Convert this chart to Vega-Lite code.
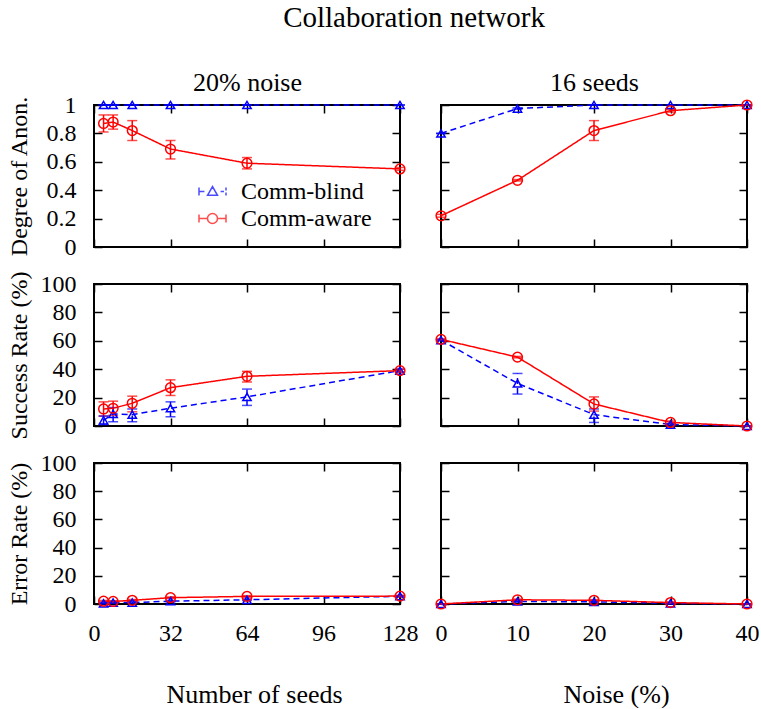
{
  "$schema": "https://vega.github.io/schema/vega-lite/v6.json",
  "padding": {"left": 6, "top": 4, "right": 5, "bottom": 0},
  "title": {"text": "Collaboration network", "fontSize": 29, "anchor": "middle", "baseline": "alphabetic", "offset": 12, "dx": 31, "font": "Liberation Serif", "fontWeight": "normal", "color": "black"},
  "datasets": {
    "d": [
      {"panel": "seeds", "metric": "anon", "series": "Comm-blind", "x": 4, "y": 1, "lo": 1, "hi": 1},
      {"panel": "seeds", "metric": "anon", "series": "Comm-blind", "x": 8, "y": 1, "lo": 1, "hi": 1},
      {"panel": "seeds", "metric": "anon", "series": "Comm-blind", "x": 16, "y": 1, "lo": 1, "hi": 1},
      {"panel": "seeds", "metric": "anon", "series": "Comm-blind", "x": 32, "y": 1, "lo": 1, "hi": 1},
      {"panel": "seeds", "metric": "anon", "series": "Comm-blind", "x": 64, "y": 1, "lo": 1, "hi": 1},
      {"panel": "seeds", "metric": "anon", "series": "Comm-blind", "x": 128, "y": 1, "lo": 1, "hi": 1},
      {"panel": "seeds", "metric": "anon", "series": "Comm-aware", "x": 4, "y": 0.87, "lo": 0.81, "hi": 0.93},
      {"panel": "seeds", "metric": "anon", "series": "Comm-aware", "x": 8, "y": 0.88, "lo": 0.83, "hi": 0.93},
      {"panel": "seeds", "metric": "anon", "series": "Comm-aware", "x": 16, "y": 0.82, "lo": 0.75, "hi": 0.89},
      {"panel": "seeds", "metric": "anon", "series": "Comm-aware", "x": 32, "y": 0.69, "lo": 0.62, "hi": 0.75},
      {"panel": "seeds", "metric": "anon", "series": "Comm-aware", "x": 64, "y": 0.59, "lo": 0.55, "hi": 0.63},
      {"panel": "seeds", "metric": "anon", "series": "Comm-aware", "x": 128, "y": 0.55, "lo": 0.54, "hi": 0.56},
      {"panel": "seeds", "metric": "success", "series": "Comm-blind", "x": 4, "y": 4, "lo": 1, "hi": 7},
      {"panel": "seeds", "metric": "success", "series": "Comm-blind", "x": 8, "y": 8.5, "lo": 3, "hi": 13},
      {"panel": "seeds", "metric": "success", "series": "Comm-blind", "x": 16, "y": 8, "lo": 3, "hi": 12},
      {"panel": "seeds", "metric": "success", "series": "Comm-blind", "x": 32, "y": 12.5, "lo": 6.5, "hi": 17},
      {"panel": "seeds", "metric": "success", "series": "Comm-blind", "x": 64, "y": 20.5, "lo": 14.5, "hi": 26},
      {"panel": "seeds", "metric": "success", "series": "Comm-blind", "x": 128, "y": 39, "lo": 38, "hi": 40},
      {"panel": "seeds", "metric": "success", "series": "Comm-aware", "x": 4, "y": 12, "lo": 7, "hi": 17},
      {"panel": "seeds", "metric": "success", "series": "Comm-aware", "x": 8, "y": 12.5, "lo": 7.5, "hi": 17.5},
      {"panel": "seeds", "metric": "success", "series": "Comm-aware", "x": 16, "y": 16, "lo": 10, "hi": 21},
      {"panel": "seeds", "metric": "success", "series": "Comm-aware", "x": 32, "y": 27, "lo": 21.5, "hi": 32.5},
      {"panel": "seeds", "metric": "success", "series": "Comm-aware", "x": 64, "y": 35, "lo": 31, "hi": 38.5},
      {"panel": "seeds", "metric": "success", "series": "Comm-aware", "x": 128, "y": 39, "lo": 38, "hi": 40},
      {"panel": "seeds", "metric": "error", "series": "Comm-blind", "x": 4, "y": 0.5, "lo": 0, "hi": 1},
      {"panel": "seeds", "metric": "error", "series": "Comm-blind", "x": 8, "y": 1, "lo": 0.5, "hi": 1.5},
      {"panel": "seeds", "metric": "error", "series": "Comm-blind", "x": 16, "y": 1, "lo": 0.5, "hi": 1.5},
      {"panel": "seeds", "metric": "error", "series": "Comm-blind", "x": 32, "y": 2, "lo": 1.5, "hi": 2.5},
      {"panel": "seeds", "metric": "error", "series": "Comm-blind", "x": 64, "y": 3, "lo": 2.5, "hi": 3.5},
      {"panel": "seeds", "metric": "error", "series": "Comm-blind", "x": 128, "y": 5.5, "lo": 5, "hi": 6},
      {"panel": "seeds", "metric": "error", "series": "Comm-aware", "x": 4, "y": 2, "lo": 1.5, "hi": 2.5},
      {"panel": "seeds", "metric": "error", "series": "Comm-aware", "x": 8, "y": 1.8, "lo": 1.3, "hi": 2.3},
      {"panel": "seeds", "metric": "error", "series": "Comm-aware", "x": 16, "y": 2.6, "lo": 2, "hi": 3.2},
      {"panel": "seeds", "metric": "error", "series": "Comm-aware", "x": 32, "y": 4.5, "lo": 4, "hi": 5},
      {"panel": "seeds", "metric": "error", "series": "Comm-aware", "x": 64, "y": 5.4, "lo": 4.9, "hi": 5.9},
      {"panel": "seeds", "metric": "error", "series": "Comm-aware", "x": 128, "y": 5.6, "lo": 5.1, "hi": 6.1},
      {"panel": "noise", "metric": "anon", "series": "Comm-blind", "x": 0, "y": 0.8, "lo": 0.8, "hi": 0.8},
      {"panel": "noise", "metric": "anon", "series": "Comm-blind", "x": 10, "y": 0.975, "lo": 0.97, "hi": 0.98},
      {"panel": "noise", "metric": "anon", "series": "Comm-blind", "x": 20, "y": 1, "lo": 1, "hi": 1},
      {"panel": "noise", "metric": "anon", "series": "Comm-blind", "x": 30, "y": 1, "lo": 1, "hi": 1},
      {"panel": "noise", "metric": "anon", "series": "Comm-blind", "x": 40, "y": 1, "lo": 1, "hi": 1},
      {"panel": "noise", "metric": "anon", "series": "Comm-aware", "x": 0, "y": 0.22, "lo": 0.21, "hi": 0.23},
      {"panel": "noise", "metric": "anon", "series": "Comm-aware", "x": 10, "y": 0.47, "lo": 0.465, "hi": 0.475},
      {"panel": "noise", "metric": "anon", "series": "Comm-aware", "x": 20, "y": 0.82, "lo": 0.75, "hi": 0.89},
      {"panel": "noise", "metric": "anon", "series": "Comm-aware", "x": 30, "y": 0.96, "lo": 0.95, "hi": 0.97},
      {"panel": "noise", "metric": "anon", "series": "Comm-aware", "x": 40, "y": 1, "lo": 1, "hi": 1},
      {"panel": "noise", "metric": "success", "series": "Comm-blind", "x": 0, "y": 60.5, "lo": 60, "hi": 61},
      {"panel": "noise", "metric": "success", "series": "Comm-blind", "x": 10, "y": 30, "lo": 22.5, "hi": 37},
      {"panel": "noise", "metric": "success", "series": "Comm-blind", "x": 20, "y": 8, "lo": 2.5, "hi": 12},
      {"panel": "noise", "metric": "success", "series": "Comm-blind", "x": 30, "y": 1, "lo": 0.5, "hi": 1.5},
      {"panel": "noise", "metric": "success", "series": "Comm-blind", "x": 40, "y": 0, "lo": 0, "hi": 0},
      {"panel": "noise", "metric": "success", "series": "Comm-aware", "x": 0, "y": 61, "lo": 60.5, "hi": 61.5},
      {"panel": "noise", "metric": "success", "series": "Comm-aware", "x": 10, "y": 48.5, "lo": 48, "hi": 49},
      {"panel": "noise", "metric": "success", "series": "Comm-aware", "x": 20, "y": 15.5, "lo": 10.5, "hi": 20.5},
      {"panel": "noise", "metric": "success", "series": "Comm-aware", "x": 30, "y": 2.5, "lo": 1.5, "hi": 3.5},
      {"panel": "noise", "metric": "success", "series": "Comm-aware", "x": 40, "y": 0, "lo": 0, "hi": 0},
      {"panel": "noise", "metric": "error", "series": "Comm-blind", "x": 0, "y": 0, "lo": 0, "hi": 0},
      {"panel": "noise", "metric": "error", "series": "Comm-blind", "x": 10, "y": 1.8, "lo": 1.3, "hi": 2.3},
      {"panel": "noise", "metric": "error", "series": "Comm-blind", "x": 20, "y": 1.5, "lo": 1, "hi": 2},
      {"panel": "noise", "metric": "error", "series": "Comm-blind", "x": 30, "y": 0.5, "lo": 0, "hi": 1},
      {"panel": "noise", "metric": "error", "series": "Comm-blind", "x": 40, "y": 0, "lo": 0, "hi": 0},
      {"panel": "noise", "metric": "error", "series": "Comm-aware", "x": 0, "y": 0, "lo": 0, "hi": 0},
      {"panel": "noise", "metric": "error", "series": "Comm-aware", "x": 10, "y": 3, "lo": 2.5, "hi": 3.5},
      {"panel": "noise", "metric": "error", "series": "Comm-aware", "x": 20, "y": 2.6, "lo": 2.1, "hi": 3.1},
      {"panel": "noise", "metric": "error", "series": "Comm-aware", "x": 30, "y": 1, "lo": 0.5, "hi": 1.5},
      {"panel": "noise", "metric": "error", "series": "Comm-aware", "x": 40, "y": 0, "lo": 0, "hi": 0}
    ]
  },
  "columns": 2,
  "spacing": {"row": 37, "column": 41},
  "bounds": "flush",
  "resolve": {"legend": {"color": "independent", "shape": "independent"}},
  "concat": [
    {
      "width": 306, "height": 142,
      "data": {"name": "d"},
      "transform": [{"filter": "datum.panel === 'seeds' && datum.metric === 'anon'"}],
      "layer": [
        {"transform": [{"filter": "false"}],
         "mark": {"type": "point", "filled": false, "strokeWidth": 1.5},
         "encoding": {
           "x": {"field": "x", "type": "quantitative", "scale": {"domain": [0, 128], "nice": false}, "axis": null},
           "y": {"field": "y", "type": "quantitative", "scale": {"domain": [0, 1], "nice": false}, "axis": null},
           "color": {"field": "series", "type": "nominal", "scale": {"domain": ["Comm-blind", "Comm-aware"], "range": ["#0000ff", "#ff0000"]}, "legend": {"orient": "none", "legendX": 104, "legendY": 72, "title": null, "symbolSize": 729, "symbolStrokeWidth": 1.5, "symbolFillColor": "transparent", "labelFont": "Liberation Serif", "labelFontSize": 24, "labelColor": "black", "labelOffset": 14, "rowPadding": 0, "padding": 0, "labelLimit": 300}},
           "shape": {"field": "series", "type": "nominal", "scale": {"domain": ["Comm-blind", "Comm-aware"], "range": ["M-1,-0.3L-1,0.3M-1,0L-0.6,0M-0.37,0.28L0,-0.37L0.37,0.28ZM0.6,0L0.85,0M1,-0.3L1,-0.08M1,0.08L1,0.3", "M-1,-0.3L-1,0.3M-1,0L-0.37,0M0.37,0L1,0M1,-0.3L1,0.3M0.37,0A0.37,0.37,0,1,1,-0.37,0A0.37,0.37,0,1,1,0.37,0"]}, "legend": {"orient": "none", "legendX": 104, "legendY": 72, "title": null, "symbolSize": 729, "symbolStrokeWidth": 1.5, "symbolFillColor": "transparent", "labelFont": "Liberation Serif", "labelFontSize": 24, "labelColor": "black", "labelOffset": 14, "rowPadding": 0, "padding": 0, "labelLimit": 300}}
         }},
        {"mark": {"type": "rule", "strokeWidth": 1.5},
         "encoding": {
           "x": {"field": "x", "type": "quantitative", "scale": {"domain": [0, 128], "nice": false}, "axis": {"orient": "bottom", "values": [0, 32, 64, 96, 128], "labels": false, "title": null}},
           "y": {"field": "lo", "type": "quantitative", "scale": {"domain": [0, 1], "nice": false}, "axis": {"orient": "left", "values": [0, 0.2, 0.4, 0.6, 0.8, 1], "format": ".1~f", "labelPadding": 26, "labelFlush": false, "labelOverlap": false, "title": "Degree of Anon.", "titleFontSize": 24, "titleX": -68, "titleBaseline": "alphabetic"}},
           "y2": {"field": "hi"},
           "color": {"field": "series", "type": "nominal", "legend": null},
           "strokeDash": {"field": "series", "type": "nominal", "scale": {"domain": ["Comm-blind", "Comm-aware"], "range": [[6, 4], [1, 0]]}, "legend": null}
         }},
        {"mark": {"type": "tick", "orient": "horizontal", "size": 10, "thickness": 1.5},
         "encoding": {
           "x": {"field": "x", "type": "quantitative", "scale": {"domain": [0, 128], "nice": false}, "axis": null},
           "y": {"field": "lo", "type": "quantitative", "scale": {"domain": [0, 1], "nice": false}, "axis": null},
           "color": {"condition": {"test": "datum.series === 'Comm-blind'", "value": "#0000ff"}, "value": "#ff0000"}
         }},
        {"mark": {"type": "tick", "orient": "horizontal", "size": 10, "thickness": 1.5},
         "encoding": {
           "x": {"field": "x", "type": "quantitative", "scale": {"domain": [0, 128], "nice": false}, "axis": null},
           "y": {"field": "hi", "type": "quantitative", "scale": {"domain": [0, 1], "nice": false}, "axis": null},
           "color": {"condition": {"test": "datum.series === 'Comm-blind'", "value": "#0000ff"}, "value": "#ff0000"}
         }},
        {"mark": {"type": "line", "strokeWidth": 1.5},
         "encoding": {
           "x": {"field": "x", "type": "quantitative", "scale": {"domain": [0, 128], "nice": false}, "axis": {"orient": "top", "values": [0, 32, 64, 96, 128], "labels": false, "title": "20% noise", "titleFontSize": 26, "titleY": -15, "titleBaseline": "alphabetic"}},
           "y": {"field": "y", "type": "quantitative", "scale": {"domain": [0, 1], "nice": false}, "axis": {"orient": "right", "values": [0, 0.2, 0.4, 0.6, 0.8, 1], "labels": false, "title": null}},
           "color": {"field": "series", "type": "nominal", "legend": null},
           "strokeDash": {"field": "series", "type": "nominal", "legend": null}
         }},
        {"transform": [{"filter": "datum.series === 'Comm-blind'"}],
         "mark": {"type": "point", "shape": "triangle-up", "size": 70, "strokeWidth": 1.5, "color": "#0000ff", "filled": false, "opacity": 1},
         "encoding": {
           "x": {"field": "x", "type": "quantitative", "scale": {"domain": [0, 128], "nice": false}, "axis": null},
           "y": {"field": "y", "type": "quantitative", "scale": {"domain": [0, 1], "nice": false}, "axis": null}
         }},
        {"transform": [{"filter": "datum.series === 'Comm-aware'"}],
         "mark": {"type": "point", "shape": "circle", "size": 95, "strokeWidth": 1.5, "color": "#ff0000", "filled": false, "opacity": 1},
         "encoding": {
           "x": {"field": "x", "type": "quantitative", "scale": {"domain": [0, 128], "nice": false}, "axis": null},
           "y": {"field": "y", "type": "quantitative", "scale": {"domain": [0, 1], "nice": false}, "axis": null}
         }}
      ]
    },
    {
      "width": 306, "height": 142,
      "data": {"name": "d"},
      "transform": [{"filter": "datum.panel === 'noise' && datum.metric === 'anon'"}],
      "layer": [
        {"mark": {"type": "rule", "strokeWidth": 1.5},
         "encoding": {
           "x": {"field": "x", "type": "quantitative", "scale": {"domain": [0, 40], "nice": false}, "axis": {"orient": "bottom", "values": [0, 10, 20, 30, 40], "labels": false, "title": null}},
           "y": {"field": "lo", "type": "quantitative", "scale": {"domain": [0, 1], "nice": false}, "axis": {"orient": "left", "values": [0, 0.2, 0.4, 0.6, 0.8, 1], "labels": false, "title": null}},
           "y2": {"field": "hi"},
           "color": {"field": "series", "type": "nominal", "scale": {"domain": ["Comm-blind", "Comm-aware"], "range": ["#0000ff", "#ff0000"]}, "legend": null},
           "strokeDash": {"field": "series", "type": "nominal", "scale": {"domain": ["Comm-blind", "Comm-aware"], "range": [[6, 4], [1, 0]]}, "legend": null}
         }},
        {"mark": {"type": "tick", "orient": "horizontal", "size": 10, "thickness": 1.5},
         "encoding": {
           "x": {"field": "x", "type": "quantitative", "scale": {"domain": [0, 40], "nice": false}, "axis": null},
           "y": {"field": "lo", "type": "quantitative", "scale": {"domain": [0, 1], "nice": false}, "axis": null},
           "color": {"condition": {"test": "datum.series === 'Comm-blind'", "value": "#0000ff"}, "value": "#ff0000"}
         }},
        {"mark": {"type": "tick", "orient": "horizontal", "size": 10, "thickness": 1.5},
         "encoding": {
           "x": {"field": "x", "type": "quantitative", "scale": {"domain": [0, 40], "nice": false}, "axis": null},
           "y": {"field": "hi", "type": "quantitative", "scale": {"domain": [0, 1], "nice": false}, "axis": null},
           "color": {"condition": {"test": "datum.series === 'Comm-blind'", "value": "#0000ff"}, "value": "#ff0000"}
         }},
        {"mark": {"type": "line", "strokeWidth": 1.5},
         "encoding": {
           "x": {"field": "x", "type": "quantitative", "scale": {"domain": [0, 40], "nice": false}, "axis": {"orient": "top", "values": [0, 10, 20, 30, 40], "labels": false, "title": "16 seeds", "titleFontSize": 26, "titleY": -15, "titleBaseline": "alphabetic"}},
           "y": {"field": "y", "type": "quantitative", "scale": {"domain": [0, 1], "nice": false}, "axis": {"orient": "right", "values": [0, 0.2, 0.4, 0.6, 0.8, 1], "labels": false, "title": null}},
           "color": {"field": "series", "type": "nominal", "legend": null},
           "strokeDash": {"field": "series", "type": "nominal", "legend": null}
         }},
        {"transform": [{"filter": "datum.series === 'Comm-blind'"}],
         "mark": {"type": "point", "shape": "triangle-up", "size": 70, "strokeWidth": 1.5, "color": "#0000ff", "filled": false, "opacity": 1},
         "encoding": {
           "x": {"field": "x", "type": "quantitative", "scale": {"domain": [0, 40], "nice": false}, "axis": null},
           "y": {"field": "y", "type": "quantitative", "scale": {"domain": [0, 1], "nice": false}, "axis": null}
         }},
        {"transform": [{"filter": "datum.series === 'Comm-aware'"}],
         "mark": {"type": "point", "shape": "circle", "size": 95, "strokeWidth": 1.5, "color": "#ff0000", "filled": false, "opacity": 1},
         "encoding": {
           "x": {"field": "x", "type": "quantitative", "scale": {"domain": [0, 40], "nice": false}, "axis": null},
           "y": {"field": "y", "type": "quantitative", "scale": {"domain": [0, 1], "nice": false}, "axis": null}
         }}
      ]
    },
    {
      "width": 306, "height": 142,
      "data": {"name": "d"},
      "transform": [{"filter": "datum.panel === 'seeds' && datum.metric === 'success'"}],
      "layer": [
        {"mark": {"type": "rule", "strokeWidth": 1.5},
         "encoding": {
           "x": {"field": "x", "type": "quantitative", "scale": {"domain": [0, 128], "nice": false}, "axis": {"orient": "bottom", "values": [0, 32, 64, 96, 128], "labels": false, "title": null}},
           "y": {"field": "lo", "type": "quantitative", "scale": {"domain": [0, 100], "nice": false}, "axis": {"orient": "left", "values": [0, 20, 40, 60, 80, 100], "format": "d", "labelPadding": 26, "labelFlush": false, "labelOverlap": false, "title": "Success Rate (%)", "titleFontSize": 24, "titleX": -68, "titleBaseline": "alphabetic"}},
           "y2": {"field": "hi"},
           "color": {"field": "series", "type": "nominal", "scale": {"domain": ["Comm-blind", "Comm-aware"], "range": ["#0000ff", "#ff0000"]}, "legend": null},
           "strokeDash": {"field": "series", "type": "nominal", "scale": {"domain": ["Comm-blind", "Comm-aware"], "range": [[6, 4], [1, 0]]}, "legend": null}
         }},
        {"mark": {"type": "tick", "orient": "horizontal", "size": 10, "thickness": 1.5},
         "encoding": {
           "x": {"field": "x", "type": "quantitative", "scale": {"domain": [0, 128], "nice": false}, "axis": null},
           "y": {"field": "lo", "type": "quantitative", "scale": {"domain": [0, 100], "nice": false}, "axis": null},
           "color": {"condition": {"test": "datum.series === 'Comm-blind'", "value": "#0000ff"}, "value": "#ff0000"}
         }},
        {"mark": {"type": "tick", "orient": "horizontal", "size": 10, "thickness": 1.5},
         "encoding": {
           "x": {"field": "x", "type": "quantitative", "scale": {"domain": [0, 128], "nice": false}, "axis": null},
           "y": {"field": "hi", "type": "quantitative", "scale": {"domain": [0, 100], "nice": false}, "axis": null},
           "color": {"condition": {"test": "datum.series === 'Comm-blind'", "value": "#0000ff"}, "value": "#ff0000"}
         }},
        {"mark": {"type": "line", "strokeWidth": 1.5},
         "encoding": {
           "x": {"field": "x", "type": "quantitative", "scale": {"domain": [0, 128], "nice": false}, "axis": {"orient": "top", "values": [0, 32, 64, 96, 128], "labels": false, "title": null}},
           "y": {"field": "y", "type": "quantitative", "scale": {"domain": [0, 100], "nice": false}, "axis": {"orient": "right", "values": [0, 20, 40, 60, 80, 100], "labels": false, "title": null}},
           "color": {"field": "series", "type": "nominal", "legend": null},
           "strokeDash": {"field": "series", "type": "nominal", "legend": null}
         }},
        {"transform": [{"filter": "datum.series === 'Comm-blind'"}],
         "mark": {"type": "point", "shape": "triangle-up", "size": 70, "strokeWidth": 1.5, "color": "#0000ff", "filled": false, "opacity": 1},
         "encoding": {
           "x": {"field": "x", "type": "quantitative", "scale": {"domain": [0, 128], "nice": false}, "axis": null},
           "y": {"field": "y", "type": "quantitative", "scale": {"domain": [0, 100], "nice": false}, "axis": null}
         }},
        {"transform": [{"filter": "datum.series === 'Comm-aware'"}],
         "mark": {"type": "point", "shape": "circle", "size": 95, "strokeWidth": 1.5, "color": "#ff0000", "filled": false, "opacity": 1},
         "encoding": {
           "x": {"field": "x", "type": "quantitative", "scale": {"domain": [0, 128], "nice": false}, "axis": null},
           "y": {"field": "y", "type": "quantitative", "scale": {"domain": [0, 100], "nice": false}, "axis": null}
         }}
      ]
    },
    {
      "width": 306, "height": 142,
      "data": {"name": "d"},
      "transform": [{"filter": "datum.panel === 'noise' && datum.metric === 'success'"}],
      "layer": [
        {"mark": {"type": "rule", "strokeWidth": 1.5},
         "encoding": {
           "x": {"field": "x", "type": "quantitative", "scale": {"domain": [0, 40], "nice": false}, "axis": {"orient": "bottom", "values": [0, 10, 20, 30, 40], "labels": false, "title": null}},
           "y": {"field": "lo", "type": "quantitative", "scale": {"domain": [0, 100], "nice": false}, "axis": {"orient": "left", "values": [0, 20, 40, 60, 80, 100], "labels": false, "title": null}},
           "y2": {"field": "hi"},
           "color": {"field": "series", "type": "nominal", "scale": {"domain": ["Comm-blind", "Comm-aware"], "range": ["#0000ff", "#ff0000"]}, "legend": null},
           "strokeDash": {"field": "series", "type": "nominal", "scale": {"domain": ["Comm-blind", "Comm-aware"], "range": [[6, 4], [1, 0]]}, "legend": null}
         }},
        {"mark": {"type": "tick", "orient": "horizontal", "size": 10, "thickness": 1.5},
         "encoding": {
           "x": {"field": "x", "type": "quantitative", "scale": {"domain": [0, 40], "nice": false}, "axis": null},
           "y": {"field": "lo", "type": "quantitative", "scale": {"domain": [0, 100], "nice": false}, "axis": null},
           "color": {"condition": {"test": "datum.series === 'Comm-blind'", "value": "#0000ff"}, "value": "#ff0000"}
         }},
        {"mark": {"type": "tick", "orient": "horizontal", "size": 10, "thickness": 1.5},
         "encoding": {
           "x": {"field": "x", "type": "quantitative", "scale": {"domain": [0, 40], "nice": false}, "axis": null},
           "y": {"field": "hi", "type": "quantitative", "scale": {"domain": [0, 100], "nice": false}, "axis": null},
           "color": {"condition": {"test": "datum.series === 'Comm-blind'", "value": "#0000ff"}, "value": "#ff0000"}
         }},
        {"mark": {"type": "line", "strokeWidth": 1.5},
         "encoding": {
           "x": {"field": "x", "type": "quantitative", "scale": {"domain": [0, 40], "nice": false}, "axis": {"orient": "top", "values": [0, 10, 20, 30, 40], "labels": false, "title": null}},
           "y": {"field": "y", "type": "quantitative", "scale": {"domain": [0, 100], "nice": false}, "axis": {"orient": "right", "values": [0, 20, 40, 60, 80, 100], "labels": false, "title": null}},
           "color": {"field": "series", "type": "nominal", "legend": null},
           "strokeDash": {"field": "series", "type": "nominal", "legend": null}
         }},
        {"transform": [{"filter": "datum.series === 'Comm-blind'"}],
         "mark": {"type": "point", "shape": "triangle-up", "size": 70, "strokeWidth": 1.5, "color": "#0000ff", "filled": false, "opacity": 1},
         "encoding": {
           "x": {"field": "x", "type": "quantitative", "scale": {"domain": [0, 40], "nice": false}, "axis": null},
           "y": {"field": "y", "type": "quantitative", "scale": {"domain": [0, 100], "nice": false}, "axis": null}
         }},
        {"transform": [{"filter": "datum.series === 'Comm-aware'"}],
         "mark": {"type": "point", "shape": "circle", "size": 95, "strokeWidth": 1.5, "color": "#ff0000", "filled": false, "opacity": 1},
         "encoding": {
           "x": {"field": "x", "type": "quantitative", "scale": {"domain": [0, 40], "nice": false}, "axis": null},
           "y": {"field": "y", "type": "quantitative", "scale": {"domain": [0, 100], "nice": false}, "axis": null}
         }}
      ]
    },
    {
      "width": 306, "height": 141,
      "data": {"name": "d"},
      "transform": [{"filter": "datum.panel === 'seeds' && datum.metric === 'error'"}],
      "layer": [
        {"mark": {"type": "rule", "strokeWidth": 1.5},
         "encoding": {
           "x": {"field": "x", "type": "quantitative", "scale": {"domain": [0, 128], "nice": false}, "axis": {"orient": "bottom", "values": [0, 32, 64, 96, 128], "labelPadding": 25, "labelFlush": false, "labelOverlap": false, "title": "Number of seeds", "titleX": 160, "titleY": 98, "titleBaseline": "alphabetic"}},
           "y": {"field": "lo", "type": "quantitative", "scale": {"domain": [0, 100], "nice": false}, "axis": {"orient": "left", "values": [0, 20, 40, 60, 80, 100], "format": "d", "labelPadding": 26, "labelFlush": false, "labelOverlap": false, "title": "Error Rate (%)", "titleFontSize": 24, "titleX": -68, "titleBaseline": "alphabetic"}},
           "y2": {"field": "hi"},
           "color": {"field": "series", "type": "nominal", "scale": {"domain": ["Comm-blind", "Comm-aware"], "range": ["#0000ff", "#ff0000"]}, "legend": null},
           "strokeDash": {"field": "series", "type": "nominal", "scale": {"domain": ["Comm-blind", "Comm-aware"], "range": [[6, 4], [1, 0]]}, "legend": null}
         }},
        {"mark": {"type": "tick", "orient": "horizontal", "size": 10, "thickness": 1.5},
         "encoding": {
           "x": {"field": "x", "type": "quantitative", "scale": {"domain": [0, 128], "nice": false}, "axis": null},
           "y": {"field": "lo", "type": "quantitative", "scale": {"domain": [0, 100], "nice": false}, "axis": null},
           "color": {"condition": {"test": "datum.series === 'Comm-blind'", "value": "#0000ff"}, "value": "#ff0000"}
         }},
        {"mark": {"type": "tick", "orient": "horizontal", "size": 10, "thickness": 1.5},
         "encoding": {
           "x": {"field": "x", "type": "quantitative", "scale": {"domain": [0, 128], "nice": false}, "axis": null},
           "y": {"field": "hi", "type": "quantitative", "scale": {"domain": [0, 100], "nice": false}, "axis": null},
           "color": {"condition": {"test": "datum.series === 'Comm-blind'", "value": "#0000ff"}, "value": "#ff0000"}
         }},
        {"mark": {"type": "line", "strokeWidth": 1.5},
         "encoding": {
           "x": {"field": "x", "type": "quantitative", "scale": {"domain": [0, 128], "nice": false}, "axis": {"orient": "top", "values": [0, 32, 64, 96, 128], "labels": false, "title": null}},
           "y": {"field": "y", "type": "quantitative", "scale": {"domain": [0, 100], "nice": false}, "axis": {"orient": "right", "values": [0, 20, 40, 60, 80, 100], "labels": false, "title": null}},
           "color": {"field": "series", "type": "nominal", "legend": null},
           "strokeDash": {"field": "series", "type": "nominal", "legend": null}
         }},
        {"transform": [{"filter": "datum.series === 'Comm-blind'"}],
         "mark": {"type": "point", "shape": "triangle-up", "size": 70, "strokeWidth": 1.5, "color": "#0000ff", "filled": false, "opacity": 1},
         "encoding": {
           "x": {"field": "x", "type": "quantitative", "scale": {"domain": [0, 128], "nice": false}, "axis": null},
           "y": {"field": "y", "type": "quantitative", "scale": {"domain": [0, 100], "nice": false}, "axis": null}
         }},
        {"transform": [{"filter": "datum.series === 'Comm-aware'"}],
         "mark": {"type": "point", "shape": "circle", "size": 95, "strokeWidth": 1.5, "color": "#ff0000", "filled": false, "opacity": 1},
         "encoding": {
           "x": {"field": "x", "type": "quantitative", "scale": {"domain": [0, 128], "nice": false}, "axis": null},
           "y": {"field": "y", "type": "quantitative", "scale": {"domain": [0, 100], "nice": false}, "axis": null}
         }}
      ]
    },
    {
      "width": 306, "height": 141,
      "data": {"name": "d"},
      "transform": [{"filter": "datum.panel === 'noise' && datum.metric === 'error'"}],
      "layer": [
        {"mark": {"type": "rule", "strokeWidth": 1.5},
         "encoding": {
           "x": {"field": "x", "type": "quantitative", "scale": {"domain": [0, 40], "nice": false}, "axis": {"orient": "bottom", "values": [0, 10, 20, 30, 40], "labelPadding": 25, "labelFlush": false, "labelOverlap": false, "title": "Noise (%)", "titleX": 175, "titleY": 98, "titleBaseline": "alphabetic"}},
           "y": {"field": "lo", "type": "quantitative", "scale": {"domain": [0, 100], "nice": false}, "axis": {"orient": "left", "values": [0, 20, 40, 60, 80, 100], "labels": false, "title": null}},
           "y2": {"field": "hi"},
           "color": {"field": "series", "type": "nominal", "scale": {"domain": ["Comm-blind", "Comm-aware"], "range": ["#0000ff", "#ff0000"]}, "legend": null},
           "strokeDash": {"field": "series", "type": "nominal", "scale": {"domain": ["Comm-blind", "Comm-aware"], "range": [[6, 4], [1, 0]]}, "legend": null}
         }},
        {"mark": {"type": "tick", "orient": "horizontal", "size": 10, "thickness": 1.5},
         "encoding": {
           "x": {"field": "x", "type": "quantitative", "scale": {"domain": [0, 40], "nice": false}, "axis": null},
           "y": {"field": "lo", "type": "quantitative", "scale": {"domain": [0, 100], "nice": false}, "axis": null},
           "color": {"condition": {"test": "datum.series === 'Comm-blind'", "value": "#0000ff"}, "value": "#ff0000"}
         }},
        {"mark": {"type": "tick", "orient": "horizontal", "size": 10, "thickness": 1.5},
         "encoding": {
           "x": {"field": "x", "type": "quantitative", "scale": {"domain": [0, 40], "nice": false}, "axis": null},
           "y": {"field": "hi", "type": "quantitative", "scale": {"domain": [0, 100], "nice": false}, "axis": null},
           "color": {"condition": {"test": "datum.series === 'Comm-blind'", "value": "#0000ff"}, "value": "#ff0000"}
         }},
        {"mark": {"type": "line", "strokeWidth": 1.5},
         "encoding": {
           "x": {"field": "x", "type": "quantitative", "scale": {"domain": [0, 40], "nice": false}, "axis": {"orient": "top", "values": [0, 10, 20, 30, 40], "labels": false, "title": null}},
           "y": {"field": "y", "type": "quantitative", "scale": {"domain": [0, 100], "nice": false}, "axis": {"orient": "right", "values": [0, 20, 40, 60, 80, 100], "labels": false, "title": null}},
           "color": {"field": "series", "type": "nominal", "legend": null},
           "strokeDash": {"field": "series", "type": "nominal", "legend": null}
         }},
        {"transform": [{"filter": "datum.series === 'Comm-blind'"}],
         "mark": {"type": "point", "shape": "triangle-up", "size": 70, "strokeWidth": 1.5, "color": "#0000ff", "filled": false, "opacity": 1},
         "encoding": {
           "x": {"field": "x", "type": "quantitative", "scale": {"domain": [0, 40], "nice": false}, "axis": null},
           "y": {"field": "y", "type": "quantitative", "scale": {"domain": [0, 100], "nice": false}, "axis": null}
         }},
        {"transform": [{"filter": "datum.series === 'Comm-aware'"}],
         "mark": {"type": "point", "shape": "circle", "size": 95, "strokeWidth": 1.5, "color": "#ff0000", "filled": false, "opacity": 1},
         "encoding": {
           "x": {"field": "x", "type": "quantitative", "scale": {"domain": [0, 40], "nice": false}, "axis": null},
           "y": {"field": "y", "type": "quantitative", "scale": {"domain": [0, 100], "nice": false}, "axis": null}
         }}
      ]
    }
  ],
  "config": {
    "font": "Liberation Serif",
    "background": "white",
    "view": {"stroke": "black", "strokeWidth": 2},
    "axis": {"domain": false, "grid": false, "ticks": true, "tickColor": "black", "tickWidth": 1.5, "tickSize": -8, "labelFont": "Liberation Serif", "labelFontSize": 24, "labelColor": "black", "titleFont": "Liberation Serif", "titleFontSize": 26, "titleFontWeight": "normal", "titleColor": "black"},
    "title": {"font": "Liberation Serif", "fontWeight": "normal", "color": "black"}
  }
}
